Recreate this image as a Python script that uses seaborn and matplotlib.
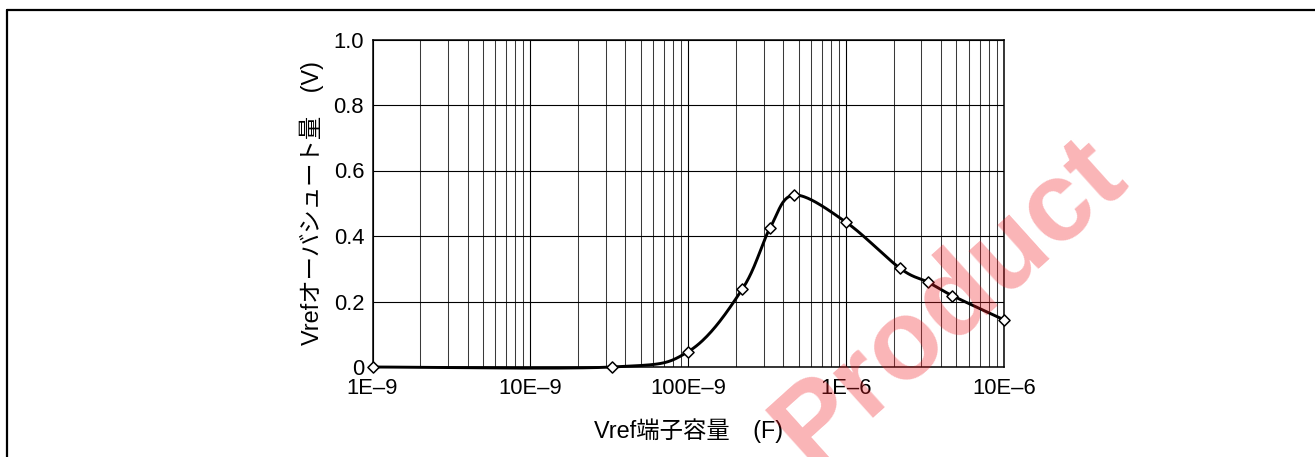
import numpy as np
import pandas as pd
import matplotlib
matplotlib.use("Agg")
import matplotlib.pyplot as plt
from matplotlib.lines import Line2D
from matplotlib.ticker import FixedLocator, FixedFormatter, LogLocator, NullFormatter
import seaborn as sns

# Measured overshoot vs. Vref pin capacitance
capacitance_f = [1e-9, 33e-9, 100e-9, 220e-9, 330e-9, 470e-9,
                 1e-6, 2.2e-6, 3.3e-6, 4.7e-6, 10e-6]
overshoot_v = [0.0, 0.0, 0.047, 0.238, 0.425, 0.525,
               0.442, 0.301, 0.259, 0.218, 0.144]

x_tick_values = [1e-9, 1e-8, 1e-7, 1e-6, 1e-5]
x_tick_labels = ["1E–9", "10E–9", "100E–9", "1E–6", "10E–6"]
y_tick_values = [0, 0.2, 0.4, 0.6, 0.8, 1.0]
y_tick_labels = ["0", "0.2", "0.4", "0.6", "0.8", "1.0"]

x_label = "Vref端子容量　(F)"
y_label = "Vrefオーバシュート量　(V)"
watermark = "Product"

sns.set_theme(style="white")
plt.rcParams["font.family"] = ["Liberation Sans", "Noto Sans CJK JP"]
plt.rcParams["axes.unicode_minus"] = False

W, H, DPI = 1315, 457, 100
fig = plt.figure(figsize=(W / DPI, H / DPI), dpi=DPI)
fig.patch.set_facecolor("white")

ax_l, ax_r, ax_t, ax_b = 372.5, 1004.0, 39.5, 367.0
ax = fig.add_axes([ax_l / W, 1 - ax_b / H, (ax_r - ax_l) / W, (ax_b - ax_t) / H])


def smooth_curve(xs, ys, px_per_decade, px_per_unit, n=40):
    """Catmull-Rom smoothing in screen-like space (log x, linear y)."""
    u = np.log10(np.asarray(xs)) * px_per_decade
    v = np.asarray(ys) * px_per_unit
    pts = np.column_stack([u, v])
    ext = np.vstack([pts[0], pts, pts[-1]])
    out = []
    for i in range(1, len(ext) - 2):
        p0, p1, p2, p3 = ext[i - 1], ext[i], ext[i + 1], ext[i + 2]
        c1 = p1 + (p2 - p0) / 6.0
        c2 = p2 - (p3 - p1) / 6.0
        t = np.linspace(0, 1, n, endpoint=(i == len(ext) - 3))[:, None]
        seg = ((1 - t) ** 3) * p1 + 3 * ((1 - t) ** 2) * t * c1 \
            + 3 * (1 - t) * t ** 2 * c2 + t ** 3 * p2
        out.append(seg)
    out = np.vstack(out)
    return 10 ** (out[:, 0] / px_per_decade), out[:, 1] / px_per_unit


px_dec = (ax_r - ax_l) / 4.0
px_unit = (ax_b - ax_t) / 1.0
sx, sy = smooth_curve(capacitance_f, overshoot_v, px_dec, px_unit)
curve = pd.DataFrame({"cap": sx, "ov": sy})
points = pd.DataFrame({"cap": capacitance_f, "ov": overshoot_v})

ax.set_xscale("log")
sns.lineplot(data=curve, x="cap", y="ov", sort=False, estimator=None,
             color="black", linewidth=2.1, ax=ax, zorder=3, clip_on=False)
sns.scatterplot(data=points, x="cap", y="ov", marker="D", s=32,
                facecolor="white", edgecolor="black", linewidth=1.1,
                ax=ax, zorder=4, clip_on=False)

ax.set_xlim(1e-9, 1e-5)
ax.set_ylim(0, 1.0)
ax.xaxis.set_major_locator(FixedLocator(x_tick_values))
ax.xaxis.set_major_formatter(FixedFormatter(x_tick_labels))
ax.xaxis.set_minor_locator(LogLocator(base=10, subs=np.arange(2, 10)))
ax.xaxis.set_minor_formatter(NullFormatter())
ax.yaxis.set_major_locator(FixedLocator(y_tick_values))
ax.yaxis.set_major_formatter(FixedFormatter(y_tick_labels))

ax.grid(which="major", axis="both", color="black", linewidth=0.8)
ax.grid(which="minor", axis="x", color="#3a3a3a", linewidth=0.75)
ax.set_axisbelow(True)
for s in ax.spines.values():
    s.set_color("black")
    s.set_linewidth(1.1)
    s.set_visible(True)

ax.tick_params(axis="both", which="both", length=0, labelsize=15.8, colors="black")
ax.tick_params(axis="x", pad=8)
ax.tick_params(axis="y", pad=6)

ax.set_xlabel(x_label, fontsize=16.8, color="black")
ax.set_ylabel(y_label, fontsize=16.8, color="black")
ax.xaxis.set_label_coords(0.5, (ax_b - 418) / (ax_b - ax_t))
ax.yaxis.set_label_coords((324 - ax_l) / (ax_r - ax_l), 0.5)

# Frame around the figure (left and top edges)
fig.add_artist(Line2D([7 / W, 7 / W], [0, 1 - 10 / H], color="black", linewidth=1.6))
fig.add_artist(Line2D([7 / W, 1.0], [1 - 10 / H, 1 - 10 / H], color="black", linewidth=1.6))

# Watermark
fig.text(950 / W, 1 - 303 / H, watermark, rotation=42, rotation_mode="anchor",
         ha="center", va="center", fontsize=82, fontweight="bold",
         color="#f01c24", alpha=0.33, zorder=10)

fig.savefig("out.png", dpi=DPI, facecolor="white")
